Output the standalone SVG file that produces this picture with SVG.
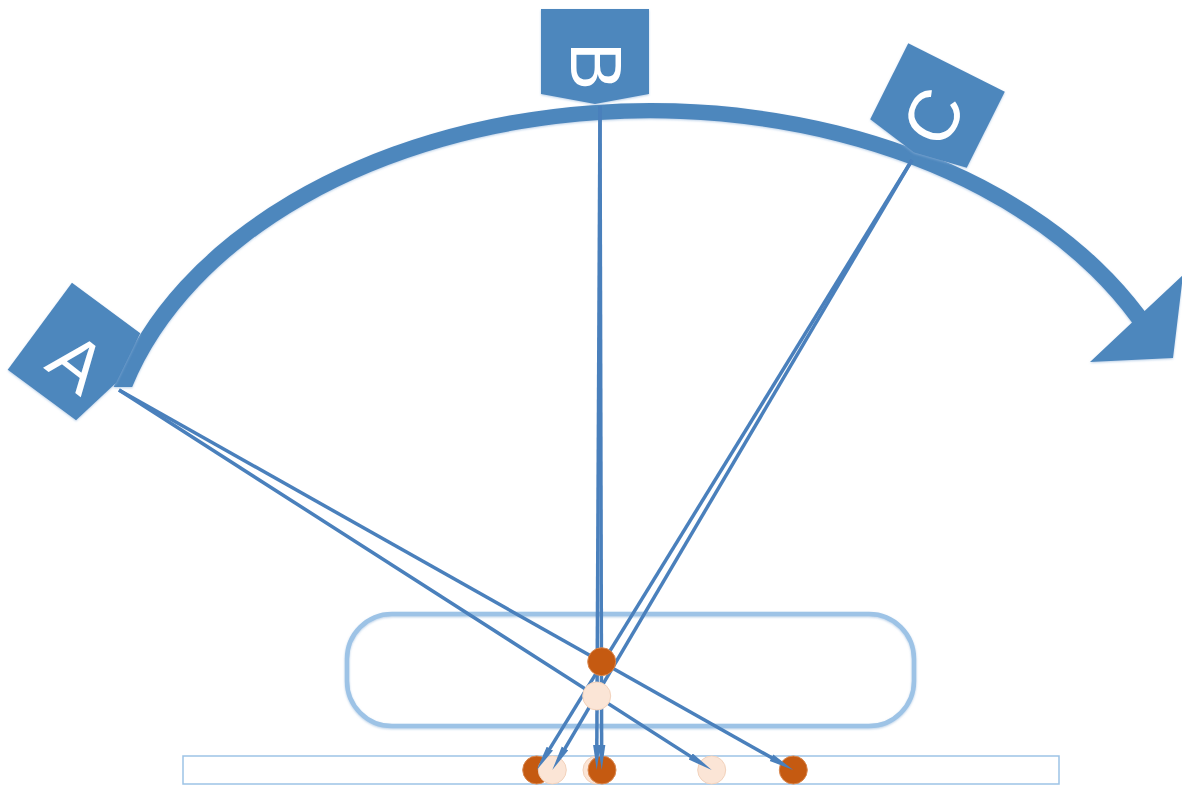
<svg xmlns="http://www.w3.org/2000/svg" width="1182" height="787" viewBox="0 0 1182 787">
  <defs>
    <style>
      .node { fill: #4D87BD; }
      .lbl { fill: #FFFFFF; font-family: "Liberation Sans", "DejaVu Sans", sans-serif; font-size: 72px; text-anchor: middle; }
      .ray { stroke: #4A80BC; stroke-width: 3.5; fill: none; marker-end: url(#ah); }
      .dark { fill: #C55A11; stroke: #D9874F; stroke-width: 1; }
      .light { fill: #FBE5D6; stroke: #F2D2BC; stroke-width: 1; }
    </style>
    <filter id="soft" x="-10%" y="-10%" width="120%" height="120%">
      <feDropShadow dx="0" dy="1" stdDeviation="1.2" flood-color="#8FB3DA" flood-opacity="0.6"/>
    </filter>
    <marker id="ah" markerUnits="userSpaceOnUse" markerWidth="27" markerHeight="9" refX="10" refY="4" orient="auto">
      <path d="M0,0.3 L25,4 L0,7.7 Z" fill="#4A80BC"/>
    </marker>
  </defs>

  <!-- base strips -->
  <rect id="base-strip" x="183" y="756" width="876" height="28" fill="#FFFFFF" stroke="#9DC3E6" stroke-width="1.5"/>
  <rect id="lens-box" x="347" y="614" width="567" height="112" rx="45" ry="45" fill="none" stroke="#9DC3E6" stroke-width="4.5" filter="url(#soft)"/>

  <!-- bottom points -->
  <g id="bottom-points">
    <circle class="dark" cx="536.7" cy="770" r="14"/>
    <circle class="light" cx="552.3" cy="770" r="14"/>
    <circle class="light" cx="597" cy="770" r="14"/>
    <circle class="dark" cx="602" cy="770" r="14"/>
    <circle class="light" cx="711.7" cy="770" r="14"/>
    <circle class="dark" cx="793.3" cy="770" r="14"/>
  </g>

  <!-- curved arrow -->
  <g id="sweep-arrow" filter="url(#soft)">
    <path class="node" d="M113.6,387 A556,384 0 0 1 1144.6,311 L1183,275 L1173,358 L1090,362 L1132,322.6 A538,368 0 0 0 132.2,387 Z"/>
  </g>

  <!-- nodes -->
  <g id="node-A" filter="url(#soft)">
    <path class="node" transform="translate(74,351.5) rotate(36.5)" d="M-42.5,-54 L42.5,-54 L52.5,0 L42.5,54 L-42.5,54 Z"/>
    <text class="lbl" transform="translate(78,362) rotate(38)" x="0" y="26">A</text>
  </g>
  <g id="node-B" filter="url(#soft)">
    <path class="node" transform="translate(595,51.5) rotate(90)" d="M-42.5,-54 L42.5,-54 L52.5,0 L42.5,54 L-42.5,54 Z"/>
    <text class="lbl" transform="translate(597,66) rotate(90)" x="0" y="26">B</text>
  </g>
  <g id="node-C" filter="url(#soft)">
    <path class="node" transform="translate(937.5,105.5) rotate(116.6)" d="M-42.5,-54 L42.5,-54 L52.5,0 L42.5,54 L-42.5,54 Z"/>
    <text class="lbl" transform="translate(932.5,116) rotate(-63.4)" x="0" y="26">C</text>
  </g>

  <!-- connectors -->
  <g id="connectors">
    <line class="ray" x1="119" y1="390" x2="780.2" y2="762.6"/>
    <line class="ray" x1="119" y1="390" x2="699.1" y2="761.9"/>
    <line class="ray" x1="600" y1="106" x2="601.66" y2="755"/>
    <line class="ray" x1="600" y1="106" x2="596.77" y2="755"/>
    <line class="ray" x1="912" y1="160" x2="544.6" y2="757.2"/>
    <line class="ray" x1="912" y1="160" x2="559.9" y2="757.1"/>
  </g>

  <!-- crossing points -->
  <g id="mid-points">
    <circle class="dark" cx="601.7" cy="661.7" r="14"/>
    <circle class="light" cx="596.7" cy="696" r="14"/>
  </g>
</svg>
